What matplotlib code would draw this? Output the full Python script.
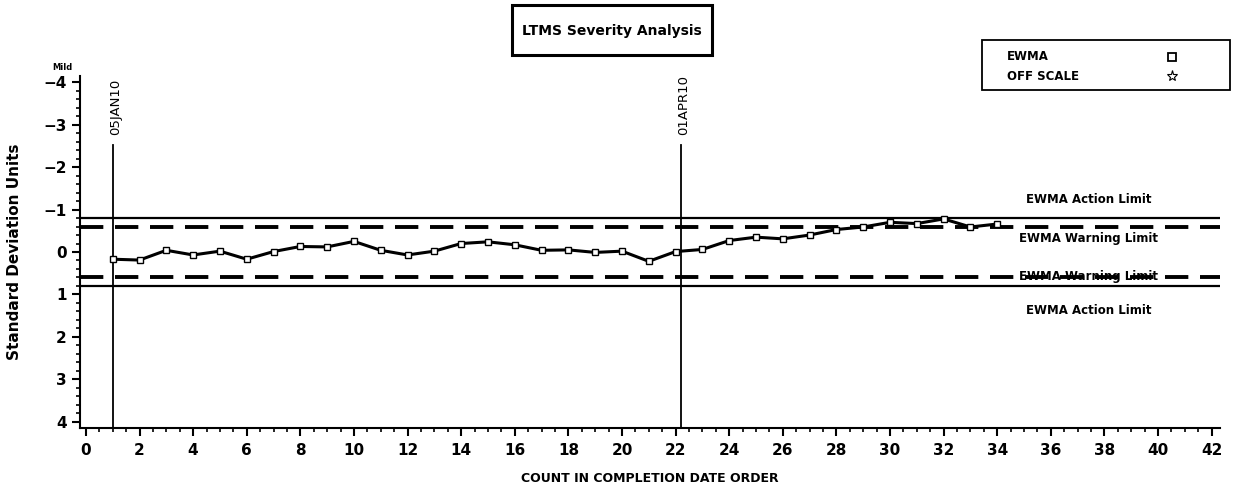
import numpy as np
import matplotlib
matplotlib.use('Agg')
import matplotlib.pyplot as plt
from matplotlib.patches import Rectangle
from matplotlib.lines import Line2D

plt.rcParams['font.family'] = 'DejaVu Sans'

# EWMA values in standard deviation units (axis is inverted: negative = mild)
count = np.arange(1, 35)
ewma = [0.17, 0.19, -0.04, 0.07, -0.02, 0.17, -0.01, -0.13, -0.12, -0.25,
        -0.04, 0.07, -0.02, -0.20, -0.24, -0.17, -0.04, -0.05, 0.01, -0.02,
        0.22, -0.01, -0.06, -0.27, -0.35, -0.31, -0.40, -0.53, -0.59, -0.70,
        -0.67, -0.78, -0.59, -0.66]

action_limit = 0.80
warning_limit = 0.58

date_marks = [1.0, 22.2]
date_labels = ['05JAN10', '01APR10']

fig = plt.figure(figsize=(12.33, 4.90), dpi=100)
ax = fig.add_axes([80/1233, 1-428/490, 1140/1233, 352/490])

ax.set_xlim(-0.22, 42.31)
ax.set_ylim(4.15, -4.15)

# control limits
for s in (-1, 1):
    ax.axhline(s*action_limit, color='black', lw=1.6)
    ax.axhline(s*warning_limit, color='black', lw=2.8, ls=(0, (6, 3)))

# date reference lines
for xm, lab in zip(date_marks, date_labels):
    ax.plot([xm, xm], [4.15, -2.52], color='black', lw=1.3)
    ax.text(xm + 0.1, -2.75, lab, rotation=90, ha='center', va='bottom', fontsize=9.5)

ax.plot(count, ewma, color='black', lw=2.2, marker='s', ms=5, mfc='white',
        mec='black', mew=1)

# limit labels
lab_kw = dict(ha='center', va='center', fontsize=8.5, fontweight='bold')
ax.text(37.4, -1.23, 'EWMA Action Limit', **lab_kw)
ax.text(37.4, -0.31, 'EWMA Warning Limit', **lab_kw)
ax.text(37.4, 0.57, 'EWMA Warning Limit', **lab_kw)
ax.text(37.4, 1.37, 'EWMA Action Limit', **lab_kw)

# axes styling
ax.spines['top'].set_visible(False)
ax.spines['right'].set_visible(False)
ax.spines['left'].set_linewidth(1.5)
ax.spines['bottom'].set_linewidth(1.5)
ax.set_xticks(np.arange(0, 43, 2))
ax.set_xticks(np.arange(0, 42.5, 0.5), minor=True)
ax.set_yticks(np.arange(-4, 5, 1))
ax.set_yticks(np.arange(-4, 4.01, 0.2), minor=True)
ax.set_yticklabels([str(v).replace('-', '\u2212') for v in range(-4, 5)])
ax.tick_params(which='major', direction='out', length=6, width=1.5, labelsize=11)
ax.tick_params(which='minor', direction='out', length=3, width=1.2)
ax.tick_params(axis='x', pad=5)
for t in ax.get_xticklabels() + ax.get_yticklabels():
    t.set_fontweight('bold')

fig.text(650/1233, 1-478/490, 'COUNT IN COMPLETION DATE ORDER', ha='center', va='center',
         fontsize=9, fontweight='bold')
fig.text(15/1233, 1-252/490, 'Standard Deviation Units', rotation=90, ha='center',
         va='center', fontsize=11, fontweight='bold')
fig.text(62/1233, 1-67/490, 'Mild', ha='center', va='center', fontsize=6, fontweight='bold')

# title box
fig.patches.append(Rectangle((512/1233, 1-55/490), 200/1233, 50/490, transform=fig.transFigure,
                             fill=False, lw=2.2, ec='black'))
fig.text(612/1233, 1-31/490, 'LTMS Severity Analysis', ha='center', va='center',
         fontsize=10, fontweight='bold')

# legend box
fig.patches.append(Rectangle((982/1233, 1-90/490), 248/1233, 50/490, transform=fig.transFigure,
                             fill=False, lw=1.3, ec='black'))
fig.text(1007/1233, 1-57/490, 'EWMA', ha='left', va='center', fontsize=8.5, fontweight='bold')
fig.text(1007/1233, 1-76/490, 'OFF SCALE', ha='left', va='center', fontsize=8.5, fontweight='bold')
fig.lines.append(Line2D([1172/1233], [1-57/490], transform=fig.transFigure, marker='s',
                        ms=6, mfc='white', mec='black', mew=1.3, ls='none'))
fig.lines.append(Line2D([1172/1233], [1-76/490], transform=fig.transFigure, marker='*',
                        ms=8, mfc='white', mec='black', mew=0.8, ls='none'))

fig.savefig('out.png', dpi=100)
